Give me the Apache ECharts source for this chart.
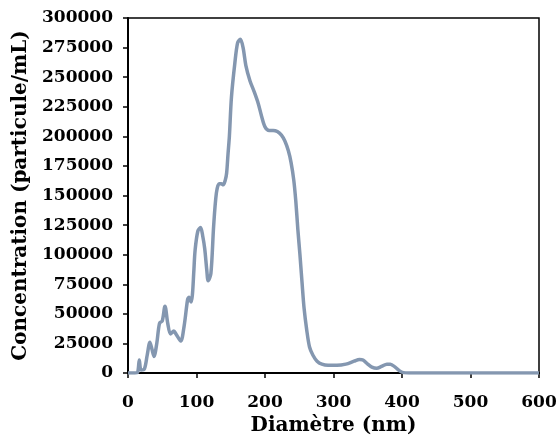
<!DOCTYPE html>
<html>
<head>
<meta charset="utf-8">
<script src="https://cdn.jsdelivr.net/npm/echarts@6/dist/echarts.min.js"></script>
<style>html,body{margin:0;padding:0;background:#fff;}#c{width:558px;height:439px;}</style>
</head>
<body>
<div id="c"></div>
<script>
const diameters = [0,10,14,16.5,19,24,28,32,35,38,42,46,50,54,58,62,67,70,77,82,87,89,92,94,96,98,102,106,109,112,115,117,121,125,129,133,136,139,142,144,146,148,151,156,160,164,168,172,178,184,190,195,200,206,212,218,224,229,234,238,242,245,248,251,254,257,261,265,270,276,283,292,305,318,330,338,343,350,356,363,370,378,383,390,396,402,410,600];
const concentrations = [0,0,500,11000,2500,3500,15000,26000,20000,14000,25000,42000,44000,56500,42000,33000,35500,33000,27000,40000,62000,64000,60000,66000,85000,104000,120000,123000,116000,105000,87000,78000,84000,124000,152000,160000,160000,159000,163000,169000,185000,200000,233000,262000,279000,282000,275000,260000,247000,238000,228000,217000,208000,205000,205000,204000,201000,196000,188000,178000,163000,145000,121000,100000,77000,55000,36000,22000,15000,10000,7500,6500,6500,7500,10000,11500,11000,7500,5000,4000,5500,7500,7500,5000,2000,300,0,0];
const xTicks = [0,100,200,300,400,500,600];
const yTicks = [0,25000,50000,75000,100000,125000,150000,175000,200000,225000,250000,275000,300000];

const data = diameters.map((d,i)=>[d, concentrations[i]]);
const font = '"DejaVu Serif", "Liberation Serif", serif';
const chart = echarts.init(document.getElementById('c'), null, {renderer:'canvas'});
chart.setOption({
  animation:false,
  backgroundColor:'#ffffff',
  grid:{left:128,right:19,top:18,bottom:66,show:true,borderColor:'#000',borderWidth:1.5,backgroundColor:'transparent',containLabel:false,outerBoundsMode:'none'},
  xAxis:{
    type:'value',min:xTicks[0],max:xTicks[xTicks.length-1],interval:100,
    name:'Diamètre (nm)',nameLocation:'middle',nameGap:43,
    nameTextStyle:{fontFamily:font,fontWeight:'bold',fontSize:20,color:'#000'},
    axisLine:{show:true,lineStyle:{color:'#000',width:2}},
    axisTick:{show:true,inside:false,length:5,lineStyle:{color:'#000',width:1.5}},
    axisLabel:{fontFamily:font,fontWeight:'bold',fontSize:17,color:'#000',margin:21,formatter:v=>String(v)},
    splitLine:{show:false}
  },
  yAxis:{
    type:'value',min:yTicks[0],max:yTicks[yTicks.length-1],interval:25000,
    name:'Concentration (particule/mL)',nameLocation:'middle',nameGap:90,
    nameTextStyle:{fontFamily:font,fontWeight:'bold',fontSize:20,color:'#000'},
    axisLine:{show:true,lineStyle:{color:'#000',width:2}},
    axisTick:{show:true,inside:false,length:5,lineStyle:{color:'#000',width:1.5}},
    axisLabel:{fontFamily:font,fontWeight:'bold',fontSize:17,color:'#000',margin:15,formatter:v=>String(v)},
    splitLine:{show:false}
  },
  series:[{
    type:'line',data:data,smooth:0.3,showSymbol:false,
    lineStyle:{color:'#8497B0',width:3.5},
    itemStyle:{color:'#8497B0'}
  }]
});
</script>
</body>
</html>
